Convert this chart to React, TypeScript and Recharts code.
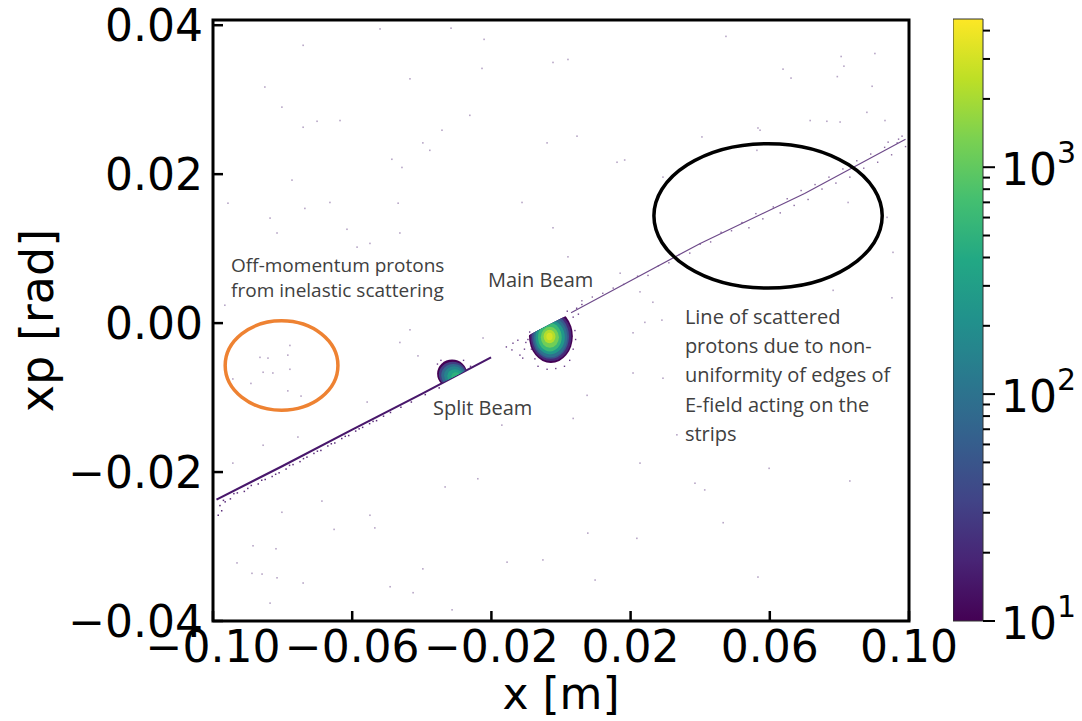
import React from "react";
import { ScatterChart, Scatter, XAxis, YAxis, ReferenceArea } from "recharts";

// axes
const X_DOMAIN = [-0.1, 0.1];
const Y_DOMAIN = [-0.04, 0.0407];
const X_TICKS = [-0.1, -0.06, -0.02, 0.02, 0.06, 0.1];
const Y_TICKS = [-0.04, -0.02, 0, 0.02, 0.04];

// colour bar (counts, log)
const CB_MIN = 10;
const CB_MAX = 4500;
const CB_MAJOR = [10, 100, 1000];
const CB_MINOR = [20, 30, 40, 50, 60, 70, 80, 90, 200, 300, 400, 500, 600, 700, 800, 900, 2000, 3000, 4000];

// slope of the scattered-proton line, rad per m
const LINE_SLOPE = 0.243;

// sparse single hits over the whole plane [x m, xp rad]
const background: [number, number][] = [
  [-0.052, 0.0395], [-0.0316, 0.0396], [-0.0221, 0.0381], [-0.0741, 0.0373], [-0.0023, 0.035], [0.002, 0.0354],
  [-0.0227, 0.0342], [-0.0434, 0.0328], [-0.0851, 0.0317], [-0.0802, 0.029], [-0.0262, 0.0279], [-0.0701, 0.0271],
  [-0.0635, 0.0272], [-0.0741, 0.0263], [-0.0342, 0.0259], [0.0046, 0.0251], [-0.0397, 0.0242], [-0.0377, 0.0232],
  [-0.004, 0.0242], [-0.0486, 0.022], [-0.0457, 0.0209], [0.0161, 0.0216], [-0.0773, 0.0192], [-0.0957, 0.0161],
  [-0.0736, 0.0154], [-0.0664, 0.0162], [-0.0468, 0.0161], [-0.0112, 0.0162], [-0.0836, 0.0141], [-0.0615, 0.0126],
  [-0.0816, 0.0121], [-0.0023, 0.0128], [-0.0463, 0.0121], [-0.0586, 0.0102], [-0.0549, 0.0107], [0.002, 0.0089],
  [-0.0966, 0.0024], [-0.0434, -0.0009], [-0.0463, -0.0026], [-0.0224, -0.002], [-0.0411, -0.0044], [-0.0779, -0.003],
  [-0.0785, -0.0043], [-0.0842, -0.0047], [-0.0865, -0.0046], [-0.0856, -0.0066], [-0.0828, -0.0067], [-0.0779, -0.0062],
  [-0.0891, -0.0081], [-0.0785, -0.0091], [-0.0747, -0.0098], [-0.0943, -0.0075], [-0.0756, -0.0153], [-0.0856, -0.0164],
  [-0.0557, -0.0106], [-0.017, -0.0137], [0.0035, -0.0128], [0.0075, -0.0097], [0.0207, -0.0067], [0.0241, 0.0001],
  [0.0227, -0.0188], [-0.0943, -0.0188], [-0.0687, -0.0239], [-0.0802, -0.0254], [-0.0549, -0.0258], [-0.0535, -0.0275],
  [-0.0333, -0.022], [-0.0239, -0.0209], [-0.0652, -0.0277], [-0.0885, -0.0299], [0.0077, -0.0282], [0.0218, -0.0289],
  [-0.0819, -0.0303], [-0.0931, -0.0322], [-0.0888, -0.0336], [-0.0859, -0.0337], [-0.0816, -0.0342], [-0.0741, -0.0349],
  [-0.0155, -0.0321], [-0.0052, -0.0318], [-0.0397, -0.033], [-0.0491, -0.0354], [-0.0425, -0.0362], [0.0098, -0.0345],
  [-0.0836, -0.0376], [-0.0313, -0.0385], [0.0293, 0.0196], [0.0183, 0.0219], [0.0937, 0.0142], [0.0954, 0.0095],
  [0.0825, 0.0162], [0.0951, 0.0034], [0.0264, 0.0028], [0.029, 0.0004], [0.0207, -0.0013], [0.0293, -0.0074],
  [0.0333, -0.015], [0.0227, 0.0042], [0.017, 0.0067], [0.0782, 0.0044], [0.0598, -0.0195], [0.0385, -0.0215],
  [0.0413, -0.0224], [0.0466, -0.0268], [0.083, -0.0212], [0.0566, -0.0341], [0.0474, 0.0385], [0.0638, 0.0341],
  [0.0661, 0.0329], [0.0805, 0.0358], [0.0813, 0.0345], [0.0794, 0.0331], [0.0902, 0.0362], [0.0894, 0.0318],
  [0.0879, 0.0283], [0.0931, 0.0272], [0.0764, 0.0271], [0.0566, 0.0262], [0.0405, 0.025], [0.0802, 0.027],
  [0.0716, 0.0272], [0.0572, 0.0259], [0.0563, 0.0232],
];

// ridge of the scattered-proton line
const leftRidge: [number, number][] = [
  [-0.099, -0.0237], [-0.08, -0.0192], [-0.06, -0.0143], [-0.04, -0.0095], [-0.0201, -0.0046],
];
const rightRidge: [number, number][] = [
  [0.0029, 0.0014], [0.02, 0.0057], [0.04, 0.0107], [0.07, 0.0174], [0.099, 0.0247],
];

// hits scattered just around the line
const leftLineHits: [number, number][] = [
  [-0.0985, -0.0258], [-0.098, -0.0245], [-0.0975, -0.0252], [-0.0965, -0.024], [-0.097, -0.0238],
  [-0.095, -0.0236], [-0.093, -0.0228], [-0.091, -0.0226], [-0.089, -0.0218], [-0.087, -0.0216],
  [-0.085, -0.021], [-0.083, -0.0206], [-0.081, -0.0201], [-0.079, -0.0196], [-0.077, -0.019],
  [-0.075, -0.0186], [-0.073, -0.018], [-0.071, -0.0175], [-0.069, -0.0171], [-0.067, -0.0165],
  [-0.065, -0.0161], [-0.063, -0.0155], [-0.061, -0.0151], [-0.059, -0.0145], [-0.057, -0.014],
  [-0.055, -0.0135], [-0.053, -0.0131], [-0.051, -0.0125], [-0.049, -0.012], [-0.094, -0.0229],
  [-0.09, -0.0222], [-0.086, -0.0211], [-0.082, -0.0203], [-0.078, -0.0191], [-0.074, -0.0182],
  [-0.07, -0.0172], [-0.066, -0.0162], [-0.062, -0.0152], [-0.058, -0.0142], [-0.054, -0.0132],
  [-0.046, -0.0113], [-0.043, -0.0106], [-0.039, -0.0096], [-0.035, -0.0087],
];
const rightLineHits: [number, number][] = [
  [0.006, 0.003], [0.009, 0.0035], [0.012, 0.004], [0.015, 0.0047], [0.018, 0.0052], [0.022, 0.0063],
  [0.025, 0.0064], [0.028, 0.0077], [0.031, 0.0081], [0.034, 0.0092], [0.037, 0.0094], [0.04, 0.0106],
  [0.043, 0.0109], [0.046, 0.0122], [0.049, 0.0124], [0.052, 0.0135], [0.054, 0.0128], [0.056, 0.0147],
  [0.058, 0.014], [0.061, 0.0156], [0.063, 0.0148], [0.065, 0.0167], [0.067, 0.0158], [0.069, 0.0178],
  [0.071, 0.0166], [0.073, 0.0186], [0.075, 0.018], [0.077, 0.0196], [0.079, 0.0188], [0.081, 0.0207],
  [0.083, 0.0196], [0.085, 0.0218], [0.087, 0.0208], [0.089, 0.0227], [0.091, 0.0216], [0.093, 0.0236],
  [0.095, 0.0226], [0.097, 0.0247], [0.099, 0.0237], [0.098, 0.0251], [0.094, 0.0243], [0.0966, 0.0242],
];
// halo around the two beams
const beamHalo: [number, number][] = [
  [-0.0138, -0.0027], [-0.0118, -0.0043], [-0.0141, -0.0036], [-0.011, -0.0047], [-0.0157, -0.0032],
  [-0.0101, -0.0026], [-0.0124, -0.0023], [0.004, -0.001], [0.0035, -0.0035], [0.0025, -0.005],
  [0.001, -0.0058], [-0.004, -0.0062], [-0.0075, -0.0048], [0.0045, 0.002], [0.006, 0.0025],
  [-0.009, -0.0012], [-0.0085, -0.0035], [-0.0355, -0.0055], [-0.0345, -0.005], [-0.026, -0.0058],
  [-0.028, -0.005], [0.0035, 0.0008], [0.005, 0.0012], [0.0042, -0.0022], [0.0018, 0.0016],
  [-0.0095, -0.0022], [-0.0105, -0.0035], [-0.0066, -0.0058], [-0.0015, -0.0061],
];

// beam cores: iso-count levels, centre and half widths in m / rad
const mainBeam = [
  { x: -0.0029, y: -0.00175, rx: 0.0063, ry: 0.0036, count: 10 },
  { x: -0.0029, y: -0.0018, rx: 0.0059, ry: 0.0033, count: 20 },
  { x: -0.003, y: -0.0018, rx: 0.0053, ry: 0.003, count: 50 },
  { x: -0.003, y: -0.0019, rx: 0.0048, ry: 0.0027, count: 100 },
  { x: -0.0031, y: -0.0019, rx: 0.0042, ry: 0.0023, count: 250 },
  { x: -0.0032, y: -0.0019, rx: 0.0034, ry: 0.0019, count: 600 },
  { x: -0.0032, y: -0.0019, rx: 0.0026, ry: 0.0014, count: 1200 },
  { x: -0.0033, y: -0.0018, rx: 0.0017, ry: 0.0009, count: 2200 },
  { x: -0.0033, y: -0.0018, rx: 0.0009, ry: 0.0005, count: 3000 },
];
const mainCut = { x: -0.0046, y: -0.0005 };

const splitBeam = [
  { x: -0.0313, y: -0.0068, rx: 0.0043, ry: 0.0019, count: 10 },
  { x: -0.0311, y: -0.0069, rx: 0.004, ry: 0.0017, count: 30 },
  { x: -0.0309, y: -0.007, rx: 0.0035, ry: 0.0015, count: 80 },
  { x: -0.0307, y: -0.007, rx: 0.0029, ry: 0.0012, count: 150 },
  { x: -0.0305, y: -0.0071, rx: 0.0022, ry: 0.0009, count: 300 },
  { x: -0.0302, y: -0.0072, rx: 0.0013, ry: 0.0006, count: 500 },
];
const splitCut = { x: -0.031, y: -0.00725 };

// annotations drawn on the figure
const rings = [
  { id: "offmom", x: -0.0803, y: -0.0057, rx: 0.0162, ry: 0.006 },
  { id: "edge", x: 0.0595, y: 0.0144, rx: 0.0328, ry: 0.0097 },
];
const notes = [
  { id: "offmom", x: -0.0948, y: 0.0068, lines: ["Off-momentum protons", "from inelastic scattering"] },
  { id: "main", x: -0.021, y: 0.0048, lines: ["Main Beam"] },
  { id: "split", x: -0.0368, y: -0.0123, lines: ["Split Beam"] },
  {
    id: "edge", x: 0.0356, y: -0.0001,
    lines: ["Line of scattered", "protons due to non-", "uniformity of edges of", "E-field acting on the", "strips"],
  },
];

// ---------- layout ----------
const W = 1082;
const H = 721;
const PLOT = { left: 213, top: 20, right: 909, bottom: 621 };
const KX = (PLOT.right - PLOT.left) / (X_DOMAIN[1] - X_DOMAIN[0]);
const KY = (PLOT.bottom - PLOT.top) / (Y_DOMAIN[1] - Y_DOMAIN[0]);
const TICK_FONT = "DejaVu Sans, sans-serif";
const NOTE_FONT = "Open Sans, sans-serif";
const RING_COLOR: Record<string, string> = { offmom: "#ee8232", edge: "#000000" };
const NOTE_LEAD: Record<string, number> = { offmom: 25, edge: 29.3 };
const NOTE_SIZE: Record<string, number> = { offmom: 19, main: 20, split: 20, edge: 20 };

const VIRIDIS = ["#440154", "#482475", "#414487", "#355f8d", "#2a788e", "#21918c", "#22a884", "#44bf70", "#7ad151", "#bddf26", "#fde725"];

function hexToRgb(h: string) {
  return [1, 3, 5].map((i) => parseInt(h.slice(i, i + 2), 16));
}
function viridis(t: number) {
  const c = Math.max(0, Math.min(1, t)) * (VIRIDIS.length - 1);
  const i = Math.min(Math.floor(c), VIRIDIS.length - 2);
  const f = c - i;
  const a = hexToRgb(VIRIDIS[i]);
  const b = hexToRgb(VIRIDIS[i + 1]);
  const m = a.map((v, k) => Math.round(v + (b[k] - v) * f));
  return `rgb(${m[0]},${m[1]},${m[2]})`;
}
const countColor = (c: number) => viridis(Math.log10(c / CB_MIN) / Math.log10(CB_MAX / CB_MIN));

const pts = (a: [number, number][]) => a.map(([x, y]) => ({ x, y }));
const fmt = (v: number) => (v < 0 ? "\u2212" : "") + Math.abs(v).toFixed(2);

const dot = (fill: string, s: number) => (p: any) => (
  <rect x={p.cx - s / 2} y={p.cy - s / 2} width={s} height={s} fill={fill} />
);
const noShape = () => <g />;

// iso-count level drawn as an ellipse, clipped by the scattered line
function blobShape(cut: { x: number; y: number }, keep: "above" | "below", id: string) {
  return (p: any) => {
    const { cx, cy, payload } = p;
    const px = PLOT.left + (cut.x - X_DOMAIN[0]) * KX;
    const py = PLOT.top + (Y_DOMAIN[1] - cut.y) * KY;
    const m = (-LINE_SLOPE * KY) / KX;
    const far = 300;
    const yl = py - m * far;
    const yr = py + m * far;
    const edge = keep === "above" ? py - 1000 : py + 1000;
    const cid = `${id}-${payload.count}`;
    return (
      <g>
        <clipPath id={cid}>
          <polygon points={`${px - far},${yl} ${px + far},${yr} ${px + far},${edge} ${px - far},${edge}`} />
        </clipPath>
        <ellipse
          cx={cx}
          cy={cy}
          rx={payload.rx * KX}
          ry={payload.ry * KY}
          fill={countColor(payload.count)}
          clipPath={`url(#${cid})`}
        />
      </g>
    );
  };
}

const ringShape = (p: any) => (
  <ellipse
    cx={p.cx}
    cy={p.cy}
    rx={p.payload.rx * KX}
    ry={p.payload.ry * KY}
    fill="none"
    stroke={RING_COLOR[p.payload.id]}
    strokeWidth={3.5}
  />
);

const noteShape = (p: any) => {
  const lead = NOTE_LEAD[p.payload.id] || 25;
  return (
    <text x={p.cx} y={p.cy} fontFamily={NOTE_FONT} fontSize={NOTE_SIZE[p.payload.id] || 20} fill="#404040">
      {p.payload.lines.map((l: string, i: number) => (
        <tspan key={i} x={p.cx} dy={i ? lead : 0}>
          {l}
        </tspan>
      ))}
    </text>
  );
};

const XTick = (p: any) => (
  <g>
    <line x1={p.x} y1={p.y} x2={p.x} y2={p.y - 10} stroke="#000" strokeWidth={2.5} />
    <text x={p.x} y={p.y + 41} textAnchor="middle" fontFamily={TICK_FONT} fontSize={44} fill="#000">
      {fmt(p.payload.value)}
    </text>
  </g>
);

const YTick = (p: any) => (
  <g>
    <line x1={p.x} y1={p.y} x2={p.x + 10} y2={p.y} stroke="#000" strokeWidth={2.5} />
    <text x={p.x - 10} y={p.y} textAnchor="end" dominantBaseline="central" fontFamily={TICK_FONT} fontSize={44} fill="#000">
      {fmt(p.payload.value)}
    </text>
  </g>
);

const CbTick = (p: any) => {
  const v = p.payload.value;
  const major = CB_MAJOR.includes(v);
  return (
    <g>
      <line x1={p.x} y1={p.y} x2={p.x + (major ? 12 : 7)} y2={p.y} stroke="#000" strokeWidth={2} />
      {major && (
        <text x={p.x + 18} y={p.y + 18} fontFamily={TICK_FONT} fontSize={44} fill="#000">
          10
          <tspan dy={-22} fontSize={30}>
            {Math.round(Math.log10(v))}
          </tspan>
        </text>
      )}
    </g>
  );
};

function ColorBar() {
  const ticks = [...CB_MAJOR, ...CB_MINOR].sort((a, b) => a - b);
  return (
    <ScatterChart width={129} height={H} margin={{ top: 19, right: 0, bottom: 100, left: 0 }}>
      <defs>
        <linearGradient id="cbGrad" x1="0" y1="1" x2="0" y2="0">
          {VIRIDIS.map((c, i) => (
            <stop key={i} offset={`${(i / (VIRIDIS.length - 1)) * 100}%`} stopColor={c} />
          ))}
        </linearGradient>
      </defs>
      <XAxis type="number" dataKey="x" domain={[0, 1]} hide />
      <YAxis
        type="number"
        dataKey="y"
        scale="log"
        domain={[CB_MIN, CB_MAX]}
        ticks={ticks}
        interval={0}
        orientation="right"
        width={99}
        tickSize={0}
        tickMargin={0}
        axisLine={false}
        tickLine={false}
        tick={<CbTick />}
        allowDataOverflow
      />
      <ReferenceArea x1={0} x2={1} y1={CB_MIN} y2={CB_MAX} fill="url(#cbGrad)" fillOpacity={1} stroke="#333" strokeWidth={1} />
      <Scatter data={ticks.map((v) => ({ x: 0.5, y: v }))} shape={noShape} isAnimationActive={false} />
    </ScatterChart>
  );
}

export default function App() {
  return (
    <div style={{ position: "absolute", left: 0, top: 0, width: W, height: H, background: "#fff" }}>
      <ScatterChart
        width={W}
        height={H}
        margin={{ top: PLOT.top, right: W - PLOT.right, bottom: 0, left: 0 }}
      >
        <XAxis
          type="number"
          dataKey="x"
          domain={X_DOMAIN}
          ticks={X_TICKS}
          interval={0}
          height={H - PLOT.bottom}
          tickSize={0}
          tickMargin={0}
          axisLine={false}
          tickLine={false}
          tick={<XTick />}
          allowDataOverflow
        />
        <YAxis
          type="number"
          dataKey="y"
          domain={Y_DOMAIN}
          ticks={Y_TICKS}
          interval={0}
          width={PLOT.left}
          tickSize={0}
          tickMargin={0}
          axisLine={false}
          tickLine={false}
          tick={<YTick />}
          allowDataOverflow
        />
        <Scatter data={pts(background)} shape={dot("#b7a6c6", 1.6)} isAnimationActive={false} />
        <Scatter data={pts(leftLineHits)} shape={dot("#5a2d79", 1.5)} isAnimationActive={false} />
        <Scatter data={pts(rightLineHits)} shape={dot("#8a6aa0", 1.4)} isAnimationActive={false} />
        <Scatter data={pts(beamHalo)} shape={dot("#6a3f88", 1.4)} isAnimationActive={false} />
        <Scatter
          data={pts(leftRidge)}
          line={{ stroke: "#48176b", strokeWidth: 2.2 }}
          lineType="joint"
          shape={noShape}
          isAnimationActive={false}
        />
        <Scatter
          data={pts(rightRidge)}
          line={{ stroke: "#6e4a8a", strokeWidth: 1.2 }}
          lineType="joint"
          shape={noShape}
          isAnimationActive={false}
        />
        <Scatter data={splitBeam} shape={blobShape(splitCut, "above", "split")} isAnimationActive={false} />
        <Scatter data={mainBeam} shape={blobShape(mainCut, "below", "main")} isAnimationActive={false} />
        <Scatter data={rings} shape={ringShape} isAnimationActive={false} />
        <Scatter data={notes} shape={noteShape} isAnimationActive={false} />
        <ReferenceArea
          x1={X_DOMAIN[0]}
          x2={X_DOMAIN[1]}
          y1={Y_DOMAIN[0]}
          y2={Y_DOMAIN[1]}
          fill="none"
          stroke="#000"
          strokeWidth={3}
        />
      </ScatterChart>
      <svg width={W} height={H} style={{ position: "absolute", left: 0, top: 0, pointerEvents: "none" }}>
        <text
          x={37}
          y={(PLOT.top + PLOT.bottom) / 2}
          transform={`rotate(-90 37 ${(PLOT.top + PLOT.bottom) / 2})`}
          textAnchor="middle"
          dominantBaseline="central"
          fontFamily={TICK_FONT}
          fontSize={46}
          fill="#000"
        >
          xp [rad]
        </text>
        <text x={(PLOT.left + PLOT.right) / 2} y={709} textAnchor="middle" fontFamily={TICK_FONT} fontSize={44} fill="#000">
          x [m]
        </text>
      </svg>
      <div style={{ position: "absolute", left: 953, top: 0 }}>
        <ColorBar />
      </div>
    </div>
  );
}
